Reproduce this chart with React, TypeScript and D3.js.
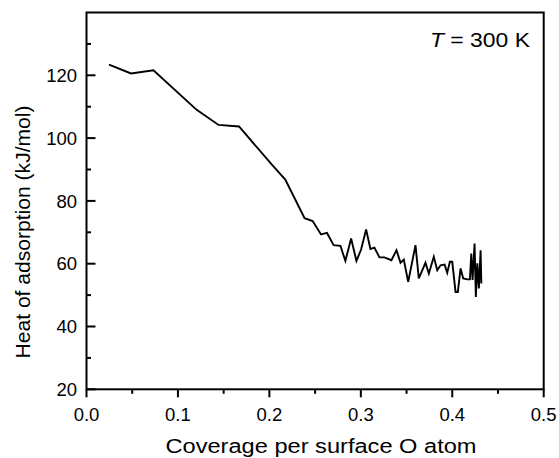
import React from "react";
import * as d3 from "d3";

const coverage = [0.0246, 0.0487, 0.0732, 0.1205, 0.1444, 0.1668, 0.2025, 0.2174, 0.2385, 0.2473, 0.2565, 0.263, 0.2703, 0.2777, 0.2831, 0.2894, 0.2952, 0.3003, 0.3058, 0.3105, 0.3149, 0.3204, 0.3258, 0.3335, 0.339, 0.3434, 0.347, 0.3518, 0.3598, 0.3634, 0.3707, 0.3744, 0.3798, 0.3836, 0.3872, 0.3916, 0.3945, 0.3974, 0.4, 0.4036, 0.4061, 0.4091, 0.412, 0.4164, 0.4193, 0.4208, 0.4222, 0.4244, 0.4258, 0.4274, 0.4291, 0.431, 0.4318];
const heat = [123.4, 120.6, 121.6, 109.0, 104.2, 103.7, 91.6, 86.8, 74.5, 73.6, 69.3, 69.8, 65.9, 65.7, 60.9, 68.0, 60.9, 64.5, 70.9, 64.7, 65.1, 62.0, 62.0, 61.1, 64.3, 60.3, 61.3, 54.2, 65.9, 55.3, 60.3, 56.9, 62.2, 57.9, 59.5, 59.7, 57.1, 60.6, 60.6, 51.0, 51.0, 58.5, 55.3, 55.0, 55.0, 63.2, 54.8, 66.4, 49.4, 60.1, 52.1, 64.3, 53.7];

const xMajorTicks = [0.0, 0.1, 0.2, 0.3, 0.4, 0.5];
const xMinorTicks = [0.05, 0.15, 0.25, 0.35, 0.45];
const yMajorTicks = [20, 40, 60, 80, 100, 120];
const yMinorTicks = [30, 50, 70, 90, 110, 130];

const FONT = "'Liberation Sans', Arial, Helvetica, sans-serif";

export default function App() {
  const W = 559, H = 458;
  const left = 86.5, right = 543.7, top = 12.5, bottom = 389.3;
  const x = d3.scaleLinear().domain([0, 0.5]).range([left, right]);
  const y = d3.scaleLinear().domain([20, 140]).range([bottom, top]);
  const pts: [number, number][] = coverage.map((c, i) => [c, heat[i]]);
  const line = d3.line<[number, number]>().x(d => x(d[0])).y(d => y(d[1]));

  return (
    <svg width={W} height={H} style={{ position: "absolute", left: 0, top: 0, background: "#fff" }} fontFamily={FONT}>
      <rect x={0} y={0} width={W} height={H} fill="#fff" />
      <path d={line(pts) || ""} fill="none" stroke="#000" strokeWidth={1.9} strokeLinejoin="miter" />
      {/* frame */}
      <rect x={left} y={top} width={right - left} height={bottom - top} fill="none" stroke="#000" strokeWidth={2} />
      {/* x ticks (outward) */}
      {xMajorTicks.map(t => (
        <g key={"xm" + t}>
          <line x1={x(t)} x2={x(t)} y1={bottom} y2={bottom + 8} stroke="#000" strokeWidth={2} />
          <text x={x(t)} y={421} textAnchor="middle" fontSize={18.5}>{t.toFixed(1)}</text>
        </g>
      ))}
      {xMinorTicks.map(t => (
        <line key={"xn" + t} x1={x(t)} x2={x(t)} y1={bottom} y2={bottom + 4.5} stroke="#000" strokeWidth={2} />
      ))}
      {/* y ticks (inward) */}
      {yMajorTicks.map(t => (
        <g key={"ym" + t}>
          <line x1={left} x2={left + 9} y1={y(t)} y2={y(t)} stroke="#000" strokeWidth={2} />
          <text x={77} y={y(t) + 6.6} textAnchor="end" fontSize={18.5}>{t}</text>
        </g>
      ))}
      {yMinorTicks.map(t => (
        <line key={"yn" + t} x1={left} x2={left + 4.5} y1={y(t)} y2={y(t)} stroke="#000" strokeWidth={2} />
      ))}
      {/* axis titles */}
      <text x={321} y={453} textAnchor="middle" fontSize={19.5} textLength={311} lengthAdjust="spacingAndGlyphs">Coverage per surface O atom</text>
      <text transform="translate(30,232) rotate(-90)" textAnchor="middle" fontSize={21} textLength={253} lengthAdjust="spacingAndGlyphs">Heat of adsorption (kJ/mol)</text>
      <text x={530} y={46.5} textAnchor="end" fontSize={20} textLength={100} lengthAdjust="spacingAndGlyphs">
        <tspan fontStyle="italic">T</tspan> = 300 K
      </text>
    </svg>
  );
}
